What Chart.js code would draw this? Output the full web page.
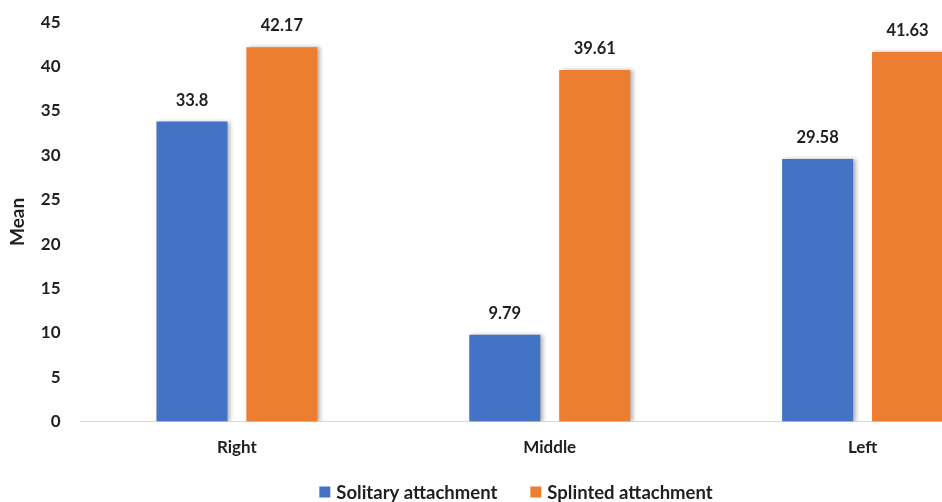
<!DOCTYPE html>
<html>
<head>
<meta charset="utf-8">
<script src="https://cdn.jsdelivr.net/npm/chart.js@4/dist/chart.umd.min.js"></script>
<style>
	html, body { margin: 0; padding: 0; background: #fff; overflow: hidden; }
	/* the original figure is cropped on the right, so the canvas is wider than the window */
	#wrap { width: 942px; height: 502px; overflow: hidden; }
</style>
</head>
<body>
<div id="wrap"><canvas id="chart" width="1032" height="502"></canvas></div>
<script>
// data
const categories = ['Right', 'Middle', 'Left'];
const solitary = [33.8, 9.79, 29.58];
const splinted = [42.17, 39.61, 41.63];
const seriesNames = ['Solitary attachment', 'Splinted attachment'];
const yTicks = [0, 5, 10, 15, 20, 25, 30, 35, 40, 45];

const fontFamily = 'Lato, "Open Sans", sans-serif';
const textColor = '#1f1f1f';

// soft shadow to the right of each bar
const barShadow = {
	id: 'barShadow',
	beforeDatasetsDraw: function (chart) {
		const ctx = chart.ctx;
		ctx.save();
		ctx.shadowColor = 'rgba(0,0,0,0.3)';
		ctx.shadowBlur = 4;
		ctx.shadowOffsetX = 3;
		ctx.shadowOffsetY = 0;
	},
	afterDatasetsDraw: function (chart) {
		chart.ctx.restore();
	}
};

// value labels above bars
const valueLabels = {
	id: 'valueLabels',
	afterDraw: function (chart) {
		const ctx = chart.ctx;
		ctx.save();
		ctx.font = 'bold 16.5px ' + fontFamily;
		ctx.fillStyle = textColor;
		ctx.textAlign = 'center';
		ctx.textBaseline = 'alphabetic';
		chart.data.datasets.forEach(function (ds, i) {
			chart.getDatasetMeta(i).data.forEach(function (bar, j) {
				ctx.fillText(String(ds.data[j]), bar.x, bar.y - 16);
			});
		});
		ctx.restore();
	}
};

// legend at the bottom - drawn by hand so item spacing can be wider than the row height
const bottomLegend = {
	id: 'bottomLegend',
	afterDraw: function (chart) {
		const ctx = chart.ctx;
		const box = 11, textGap = 6, itemGap = 33;
		const yMid = chart.height - 10;
		ctx.save();
		ctx.font = 'bold 18.5px ' + fontFamily;
		ctx.textBaseline = 'middle';
		ctx.textAlign = 'left';
		const items = chart.data.datasets.map(function (ds) {
			return { label: ds.label, color: ds.backgroundColor, w: box + textGap + ctx.measureText(ds.label).width };
		});
		const total = items.reduce(function (s, it) { return s + it.w; }, 0) + itemGap * (items.length - 1);
		let x = chart.width / 2 - total / 2;
		items.forEach(function (it) {
			ctx.fillStyle = it.color;
			ctx.fillRect(x, yMid - box / 2, box, box);
			ctx.fillStyle = textColor;
			ctx.fillText(it.label, x + box + textGap, yMid + 1);
			x += it.w + itemGap;
		});
		ctx.restore();
	}
};

const ctx = document.getElementById('chart').getContext('2d');
const chart = new Chart(ctx, {
	type: 'bar',
	data: {
		labels: categories,
		datasets: [{
			label: seriesNames[0],
			data: solitary,
			backgroundColor: '#4472C4',
			categoryPercentage: 0.575,
			barPercentage: 0.79
		}, {
			label: seriesNames[1],
			data: splinted,
			backgroundColor: '#ED7D31',
			categoryPercentage: 0.575,
			barPercentage: 0.79
		}]
	},
	options: {
		responsive: false,
		animation: false,
		layout: { padding: { top: -2, left: 6, right: 13, bottom: 36 } },
		plugins: {
			legend: { display: false },
			tooltip: { enabled: false }
		},
		scales: {
			x: {
				grid: { display: false },
				border: { display: true, color: '#d9d9d9', width: 1 },
				ticks: {
					color: textColor,
					padding: 8,
					font: { family: fontFamily, size: 17, weight: 'bold' }
				}
			},
			y: {
				min: 0,
				max: 45,
				afterBuildTicks: function (axis) {
					axis.ticks = yTicks.map(function (v) { return { value: v }; });
				},
				grid: { display: false },
				border: { display: false },
				ticks: {
					color: textColor,
					padding: 12,
					font: { family: fontFamily, size: 17, weight: 'bold' }
				},
				title: {
					display: true,
					text: 'Mean',
					color: textColor,
					padding: { top: 0, bottom: 0 },
					font: { family: fontFamily, size: 19, weight: 'bold' }
				}
			}
		}
	},
	plugins: [barShadow, valueLabels, bottomLegend]
});
</script>
</body>
</html>
